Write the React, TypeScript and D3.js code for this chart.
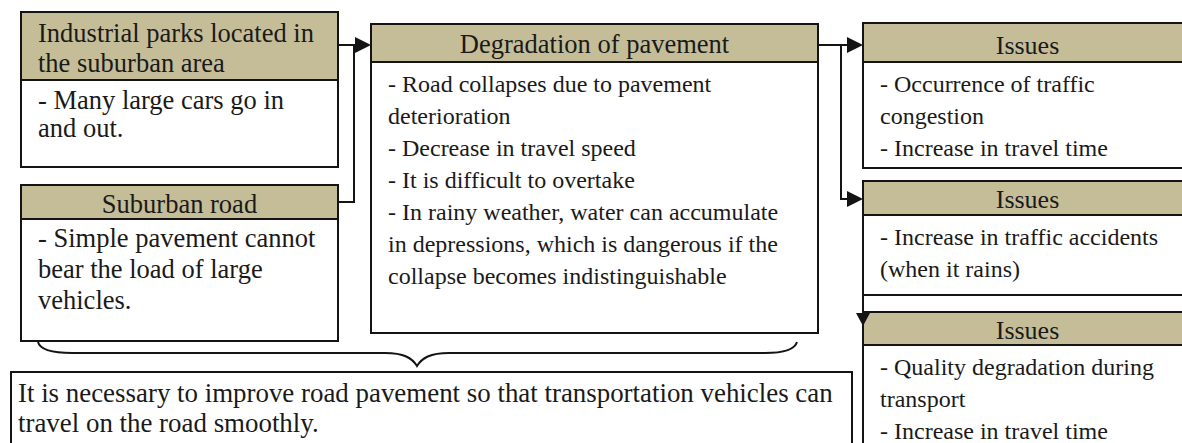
import { useEffect, useRef } from "react";
import * as d3 from "d3";

// --- diagram content ---
const titleLines: string[][] = [
  ["Industrial parks located in", "the suburban area"],
  ["Suburban road"],
  ["Degradation of pavement"],
  ["Issues"],
  ["Issues"],
  ["Issues"],
];

const bodyLines: string[][] = [
  ["- Many large cars go in", "and out."],
  ["- Simple pavement cannot", "bear the load of large", "vehicles."],
  [
    "- Road collapses due to pavement",
    "deterioration",
    "- Decrease in travel speed",
    "- It is difficult to overtake",
    "- In rainy weather, water can accumulate",
    "in depressions, which is dangerous if the",
    "collapse becomes indistinguishable",
  ],
  ["- Occurrence of traffic", "congestion", "- Increase in travel time"],
  ["- Increase in traffic accidents", "(when it rains)"],
  ["- Quality degradation during", "transport", "- Increase in travel time"],
];

const conclusionLines = [
  "It is necessary to improve road pavement so that transportation vehicles can",
  "travel on the road smoothly.",
];

// --- layout (pixels) ---
interface Layout {
  x: number; y: number; w: number; h: number; headH: number;
  titleAlign: "left" | "center"; titleY: number[]; titleSize: number;
  bodyTop: number; bodyGap: number; bodySize: number;
}

const layout: Layout[] = [
  { x: 21, y: 12, w: 317, h: 155, headH: 68, titleAlign: "left", titleY: [33, 63], titleSize: 26.5, bodyTop: 100, bodyGap: 28, bodySize: 26.5 },
  { x: 21, y: 185, w: 317, h: 156, headH: 34, titleAlign: "center", titleY: [204], titleSize: 26.5, bodyTop: 238, bodyGap: 31, bodySize: 26.5 },
  { x: 371, y: 24, w: 447, h: 309, headH: 38, titleAlign: "center", titleY: [44], titleSize: 26.5, bodyTop: 84, bodyGap: 32, bodySize: 24 },
  { x: 863, y: 23, w: 329, h: 145, headH: 39, titleAlign: "center", titleY: [45], titleSize: 26, bodyTop: 84, bodyGap: 32, bodySize: 24 },
  { x: 863, y: 181, w: 329, h: 114, headH: 34, titleAlign: "center", titleY: [199], titleSize: 26, bodyTop: 237, bodyGap: 32, bodySize: 24 },
  { x: 863, y: 312, w: 329, h: 160, headH: 33, titleAlign: "center", titleY: [330], titleSize: 26, bodyTop: 367, bodyGap: 32, bodySize: 24 },
];

const W = 1182;
const H = 443;
const headerFill = "#c4bd97";
const ink = "#141414";
const font = "'Liberation Serif', 'Times New Roman', serif";

export default function App() {
  const svgRef = useRef<SVGSVGElement>(null);

  useEffect(() => {
    if (!svgRef.current) return;
    const svg = d3.select(svgRef.current);
    svg.selectAll("*").remove();

    svg.append("rect").attr("width", W).attr("height", H).attr("fill", "#fff");

    // boxes
    layout.forEach((b, i) => {
      const g = svg.append("g");
      g.append("rect")
        .attr("x", b.x).attr("y", b.y).attr("width", b.w).attr("height", b.h)
        .attr("fill", "#fff").attr("stroke", ink).attr("stroke-width", 2);
      g.append("rect")
        .attr("x", b.x).attr("y", b.y).attr("width", b.w).attr("height", b.headH)
        .attr("fill", headerFill).attr("stroke", ink).attr("stroke-width", 2);

      g.selectAll(".title")
        .data(titleLines[i])
        .enter()
        .append("text")
        .attr("x", b.titleAlign === "center" ? b.x + b.w / 2 : b.x + 17)
        .attr("y", (_d, j) => b.titleY[j])
        .attr("dy", "0.34em")
        .attr("text-anchor", b.titleAlign === "center" ? "middle" : "start")
        .style("font-family", font)
        .style("font-size", `${b.titleSize}px`)
        .attr("fill", "#1a1a1a")
        .text(d => d);

      g.selectAll(".body")
        .data(bodyLines[i])
        .enter()
        .append("text")
        .attr("x", b.x + 17)
        .attr("y", (_d, j) => b.bodyTop + j * b.bodyGap)
        .attr("dy", "0.34em")
        .style("font-family", font)
        .style("font-size", `${b.bodySize}px`)
        .attr("fill", "#1a1a1a")
        .text(d => d);
    });

    // connectors
    const line = d3.line();
    const conn = (pts: [number, number][]) =>
      svg.append("path").attr("d", line(pts)).attr("fill", "none")
        .attr("stroke", ink).attr("stroke-width", 2);
    const arrowRight = (tx: number, ty: number, len = 16, half = 8) =>
      svg.append("path")
        .attr("d", line([[tx - len, ty - half], [tx, ty], [tx - len, ty + half]]) + "Z")
        .attr("fill", ink);
    const arrowDown = (tx: number, ty: number, len = 13, half = 7) =>
      svg.append("path")
        .attr("d", line([[tx - half, ty - len], [tx, ty], [tx + half, ty - len]]) + "Z")
        .attr("fill", ink);

    conn([[338, 45], [360, 45]]);
    conn([[338, 202], [354, 202], [354, 45]]);
    arrowRight(371, 45, 16, 8);

    conn([[818, 45], [850, 45]]);
    conn([[841, 45], [841, 199], [850, 199]]);
    arrowRight(863, 45);
    arrowRight(863, 199);

    conn([[863, 295], [863, 312]]);
    arrowDown(863, 326);

    // brace
    const bp = d3.path();
    bp.moveTo(38, 342);
    bp.bezierCurveTo(40, 350, 52, 353, 72, 353);
    bp.lineTo(385, 353);
    bp.bezierCurveTo(404, 353, 412, 358, 417, 366);
    bp.bezierCurveTo(422, 358, 430, 353, 449, 353);
    bp.lineTo(765, 353);
    bp.bezierCurveTo(784, 353, 795, 349, 797, 342);
    svg.append("path").attr("d", bp.toString()).attr("fill", "none")
      .attr("stroke", ink).attr("stroke-width", 2);

    // conclusion box
    svg.append("rect")
      .attr("x", 11).attr("y", 372).attr("width", 841).attr("height", 100)
      .attr("fill", "#fff").attr("stroke", ink).attr("stroke-width", 2);
    svg.selectAll(".concl")
      .data(conclusionLines)
      .enter()
      .append("text")
      .attr("x", 18)
      .attr("y", (_d, j) => 393 + j * 30)
      .attr("dy", "0.34em")
      .style("font-family", font)
      .style("font-size", "26.9px")
      .attr("fill", "#1a1a1a")
      .text(d => d);
  }, []);

  return (
    <svg
      ref={svgRef}
      width={W}
      height={H}
      style={{ position: "absolute", left: 0, top: 0, display: "block" }}
    />
  );
}
